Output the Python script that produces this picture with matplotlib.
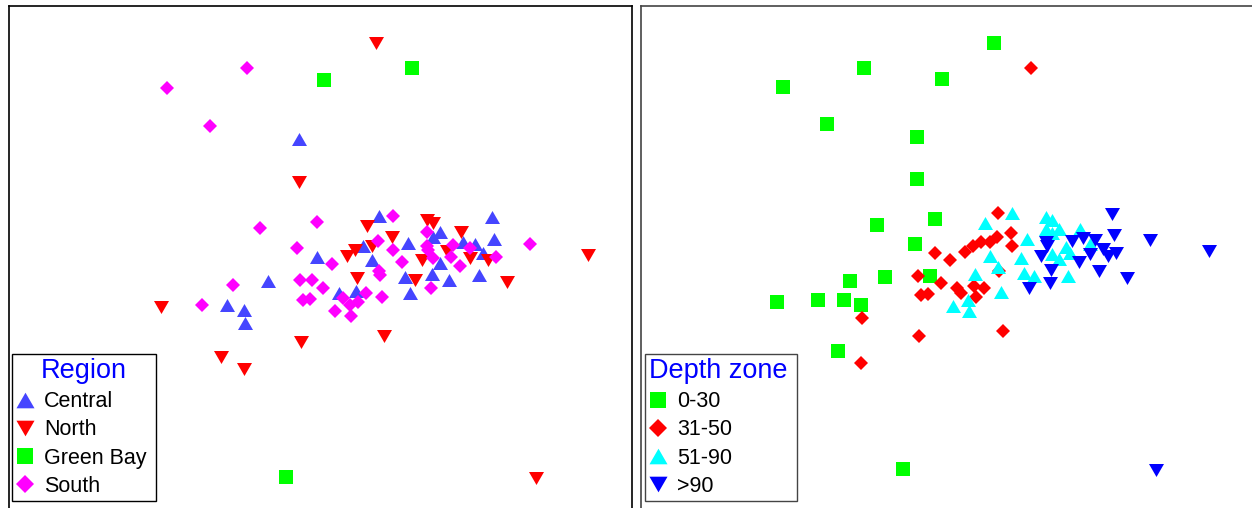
import numpy as np
import matplotlib
matplotlib.use("Agg")
import matplotlib.pyplot as plt
from matplotlib.lines import Line2D

plt.rcParams['font.family'] = ['Liberation Sans', 'DejaVu Sans']

# nMDS ordination scores of the samples, with region and depth zone of each
region_names = ["Central", "North", "Green Bay", "South"]
depth_names = ["0-30", "31-50", "51-90", ">90"]

central_x = [0.49, 1.62, 1.10, 1.03, 0.33, 0.78, 1.64, 1.45, 1.33, -0.13, 0.42, 1.10, 1.02,
             1.19, 1.49, 1.53, 0.75, 0.80, -0.62, -1.03, -0.86, -0.85, 0.09, 0.26, -0.31]
central_y = [0.49, 0.48, 0.33, 0.28, 0.19, 0.22, 0.26, 0.21, 0.23, 0.08, 0.05, 0.02, -0.09,
             -0.15, -0.10, 0.12, -0.12, -0.28, -0.16, -0.40, -0.45, -0.58, -0.28, -0.26, 1.26]
central_depth = ["31-50", ">90", "51-90", "51-90", "31-50", "51-90", ">90", ">90", ">90", "31-50",
                 "51-90", "51-90", ">90", "51-90", ">90", ">90", "51-90", ">90", "0-30", "0-30",
                 "0-30", "31-50", "31-50", "31-50", "0-30"]

north_x = [-1.69, 0.37, 0.97, 1.03, 0.62, 1.31, 0.25, 0.17, 0.42, 0.92, 1.17, 1.40, 1.58,
           0.27, 0.85, 1.77, 2.58, -0.29, 0.54, -1.09, -0.86, -0.31, 0.46, 2.06]
north_y = [-0.42, 0.39, 0.45, 0.42, 0.28, 0.33, 0.15, 0.09, 0.19, 0.05, 0.14, 0.07, 0.05,
           -0.13, -0.15, -0.17, 0.10, -0.77, -0.71, -0.92, -1.04, 0.83, 2.22, -2.13]
north_depth = ["0-30", "51-90", "51-90", "51-90", "31-50", "51-90", "31-50", "31-50", "31-50",
               ">90", "51-90", ">90", ">90", "51-90", "51-90", ">90", ">90", "31-50", "31-50",
               "0-30", "31-50", "0-30", "0-30", ">90"]

greenbay_x = [-0.06, 0.82, -0.44]
greenbay_y = [1.85, 1.97, -2.12]
greenbay_depth = ["0-30", "31-50", "0-30"]

south_x = [-1.63, -0.83, -1.20, -0.70, -0.13, 0.63, -0.33, 0.48, 0.63, 0.72, 0.02, 0.49, 0.50,
           -0.30, -0.18, -0.07, -0.97, -1.28, -0.27, -0.20, 0.13, 0.36, 0.52, 0.20, 0.28, 0.05,
           0.21, 1.01, 0.97, 0.98, 1.03, 1.23, 1.30, 1.40, 1.66, 2.00, 1.21, 0.97]
south_y = [1.77, 1.97, 1.39, 0.37, 0.43, 0.49, 0.17, 0.24, 0.15, 0.03, 0.01, -0.06, -0.10,
           -0.15, -0.15, -0.23, -0.20, -0.40, -0.35, -0.34, -0.33, -0.28, -0.32, -0.40, -0.37,
           -0.46, -0.51, -0.23, 0.33, 0.15, 0.07, 0.20, -0.01, 0.17, 0.08, 0.21, 0.08, 0.19]
south_depth = ["0-30", "0-30", "0-30", "0-30", "0-30", "51-90", "0-30", "31-50", "31-50", "51-90",
               "31-50", "51-90", "31-50", "31-50", "0-30", "31-50", "0-30", "0-30", "31-50",
               "31-50", "31-50", "31-50", "51-90", "51-90", "31-50", "51-90", "51-90", ">90",
               "51-90", ">90", "51-90", ">90", ">90", "51-90", ">90", ">90", "51-90", ">90"]

x = np.array(central_x + north_x + greenbay_x + south_x)
y = np.array(central_y + north_y + greenbay_y + south_y)
region = np.array(["Central"] * len(central_x) + ["North"] * len(north_x)
                  + ["Green Bay"] * len(greenbay_x) + ["South"] * len(south_x))
depth = np.array(central_depth + north_depth + greenbay_depth + south_depth)

# marker shapes
h = np.sqrt(3) / 2
tri_up = [(0, h), (-1, -h), (1, -h)]
tri_down = [(0, -h), (-1, h), (1, h)]

region_style = {
    "Central": dict(marker=tri_up, color="#4545FF", ms=10.8, lms=13.0),
    "North": dict(marker=tri_down, color="#FF0000", ms=10.8, lms=13.0),
    "Green Bay": dict(marker="s", color="#00FF00", ms=9.4, lms=12.0),
    "South": dict(marker="D", color="#FF00FF", ms=7.6, lms=9.4),
}
depth_style = {
    "0-30": dict(marker="s", color="#00FF00", ms=9.4, lms=12.0),
    "31-50": dict(marker="D", color="#FF0000", ms=7.6, lms=9.4),
    "51-90": dict(marker=tri_up, color="#00FFFF", ms=10.8, lms=13.0),
    ">90": dict(marker=tri_down, color="#0000FF", ms=10.8, lms=13.0),
}

W, H = 1252, 508
fig = plt.figure(figsize=(W / 100, H / 100), dpi=100)


def px_axes(x0, x1, y_top, y_bot):
    return fig.add_axes([x0 / W, 1 - y_bot / H, (x1 - x0) / W, (y_bot - y_top) / H])


def draw_panel(ax, groups, styles, names, title, frame_color, xlim, ylim,
               leg_box, title_align):
    for g in names:
        st = styles[g]
        m = groups == g
        ax.plot(x[m], y[m], linestyle="none", marker=st["marker"], ms=st["ms"],
                color=st["color"], markeredgewidth=0, zorder=3)
    ax.set_xlim(*xlim)
    ax.set_ylim(*ylim)
    ax.set_xticks([])
    ax.set_yticks([])
    for s in ax.spines.values():
        s.set_color(frame_color)
        s.set_linewidth(1.2)
    handles = [Line2D([], [], linestyle="none", marker=styles[g]["marker"],
                      ms=styles[g]["lms"], color=styles[g]["color"], markeredgewidth=0)
               for g in names]
    x0, x1, y_bot = leg_box
    leg = ax.legend(handles, names, title=title, loc="lower left", mode="expand",
                    bbox_to_anchor=(x0 / W, 1 - y_bot / H, (x1 - x0) / W, 0.0),
                    bbox_transform=fig.transFigure, borderaxespad=0,
                    fontsize=15.5, title_fontsize=19.5, frameon=True, fancybox=False,
                    framealpha=1, edgecolor=frame_color, handlelength=0.85,
                    handletextpad=0.45, labelspacing=0.33, borderpad=0.2,
                    alignment=title_align)
    leg.get_title().set_color("#0000FF")
    leg.get_frame().set_linewidth(1.0)
    return leg


ax1 = px_axes(9, 632, 5.5, 512)
draw_panel(ax1, region, region_style, ["Central", "North", "Green Bay", "South"], "Region",
           "#000000", (-3.21, 3.02), (-2.47, 2.595), (12, 156, 501), "center")

ax2 = px_axes(641, 1264, 5.5, 512)
draw_panel(ax2, depth, depth_style, ["0-30", "31-50", "51-90", ">90"], "Depth zone",
           "#444444", (-3.034, 3.124), (-2.558, 2.602), (645, 797, 501), "left")

fig.savefig("out.png", dpi=100)
